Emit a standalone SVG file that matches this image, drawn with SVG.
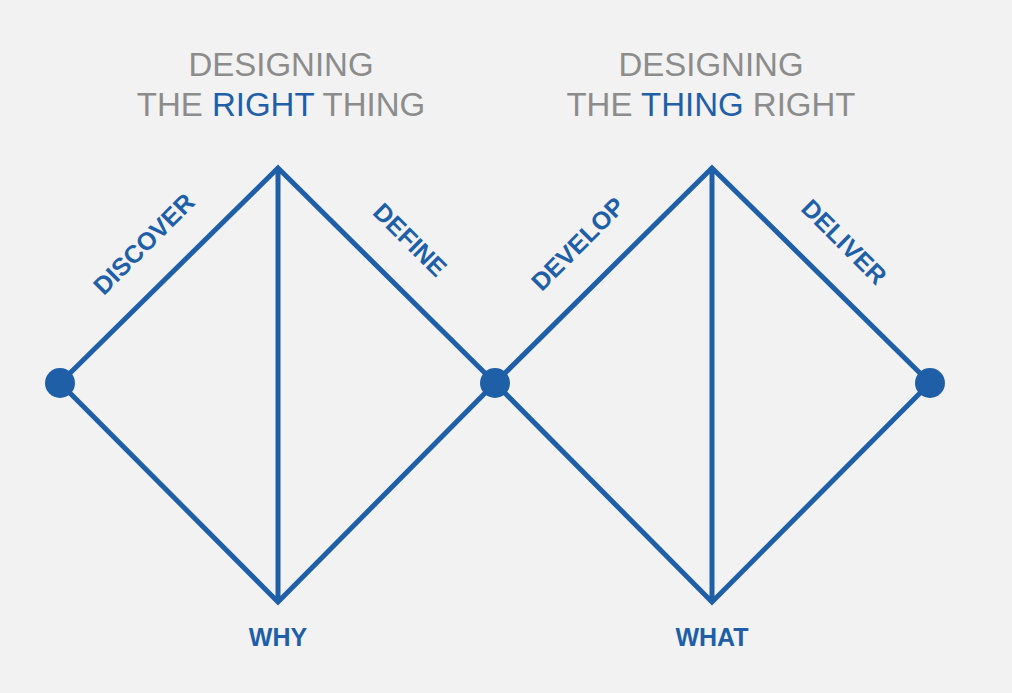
<svg xmlns="http://www.w3.org/2000/svg" width="1012" height="693" viewBox="0 0 1012 693">
<style>
.t{font-family:"Liberation Sans",Arial,sans-serif;font-size:33px;fill:#8c8c8c;text-anchor:middle}
.b{fill:#1f5fa8}
.l{font-family:"Liberation Sans",Arial,sans-serif;font-size:25px;font-weight:bold;fill:#1f5fa8;text-anchor:middle}
.ln{stroke:#1f5fa8;stroke-width:5;fill:none;stroke-linejoin:miter}
</style>
<rect width="1012" height="693" fill="#f2f2f2"/>
<g id="title1"><text class="t" x="281" y="76">DESIGNING</text><text class="t" x="281" y="116">THE <tspan class="b">RIGHT</tspan> THING</text></g>
<g id="title2"><text class="t" x="711" y="76">DESIGNING</text><text class="t" x="711" y="116">THE <tspan class="b">THING</tspan> RIGHT</text></g>
<g id="connectors">
<path class="ln" d="M60,383 L278,168 L495,383 L278,602 Z M278,168 L278,602"/>
<path class="ln" d="M495,383 L712,168 L930,383 L712,602 Z M712,168 L712,602"/>
</g>
<g id="nodes">
<circle class="b" cx="60" cy="383" r="15"/>
<circle class="b" cx="495" cy="383" r="15"/>
<circle class="b" cx="930" cy="383" r="15"/>
</g>
<g id="labels">
<text class="l" transform="translate(150,250) rotate(-45)">DISCOVER</text>
<text class="l" transform="translate(404,246) rotate(45)">DEFINE</text>
<text class="l" transform="translate(584,250) rotate(-45)">DEVELOP</text>
<text class="l" transform="translate(838,248) rotate(45)">DELIVER</text>
<text class="l" x="278" y="646">WHY</text>
<text class="l" x="712" y="646">WHAT</text>
</g>
</svg>
